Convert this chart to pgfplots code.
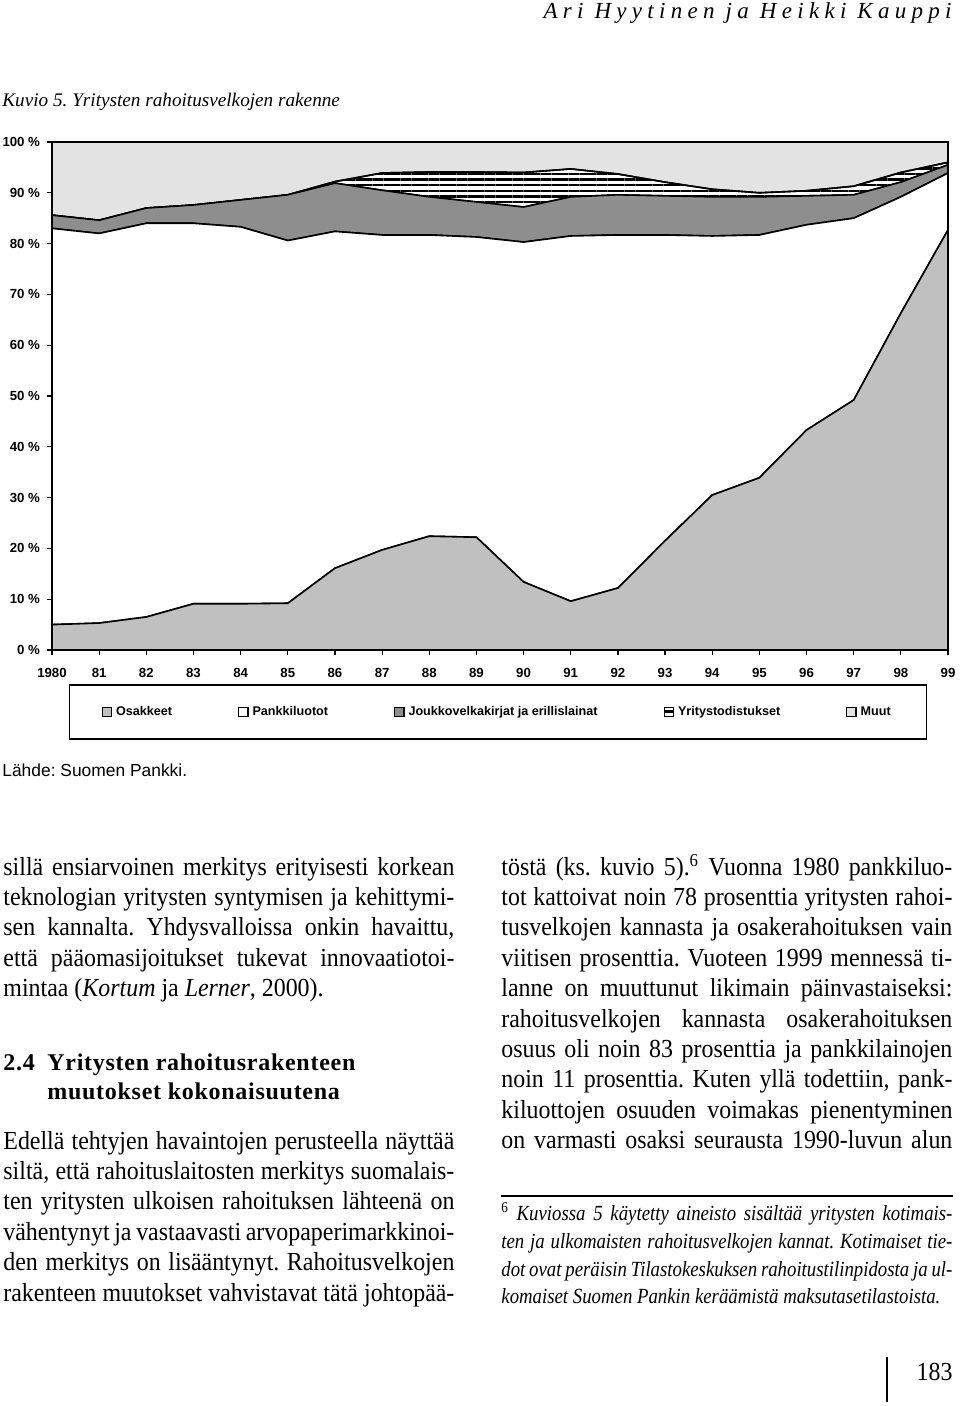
\documentclass[border=0pt]{standalone}
\usepackage{fontspec}
\usepackage{pgfplots}
\pgfplotsset{compat=1.18}
\usetikzlibrary{patterns.meta}
\setmainfont{Liberation Serif}
\newfontfamily\bodyfont{Liberation Serif}[FakeStretch=0.92]
\newfontfamily\notefont{Liberation Serif}[FakeStretch=0.87]
\newfontfamily\headfont{Liberation Serif}[LetterSpace=23]
\newfontfamily\secfont{Liberation Serif}[LetterSpace=3]
\newfontfamily\sansfont{Liberation Sans}
\definecolor{osak}{HTML}{C0C0C0}
\definecolor{jouk}{HTML}{8E8E8E}
\definecolor{muut}{HTML}{E3E3E3}
\newcommand{\J}[3]{\node[anchor=base west,inner sep=0pt] at (#1,#2) {\makebox[225.5pt][s]{#3}};}
\newcommand{\Lf}[3]{\node[anchor=base west,inner sep=0pt] at (#1,#2) {#3};}

\begin{document}
\frenchspacing
\begin{tikzpicture}
\path[use as bounding box] (0pt,0pt) rectangle (480pt,-703pt);
\begin{axis}[
  at={(26pt,-325pt)}, anchor=south west,
  scale only axis, width=448pt, height=254pt,
  xmin=1980, xmax=1999, ymin=0, ymax=100,
  stack plots=y,
  axis on top,
  axis line style={line width=0.7pt},
  xtick={1980,1981,...,1999},
  xticklabels={1980,81,82,83,84,85,86,87,88,89,90,91,92,93,94,95,96,97,98,99},
  ytick={0,10,...,100},
  yticklabels={0 \%,10 \%,20 \%,30 \%,40 \%,50 \%,60 \%,70 \%,80 \%,90 \%,100 \%},
  tick align=outside, tick pos=left,
  major tick length=2.5pt,
  tick style={black, line width=0.6pt},
  ticklabel style={font=\sansfont\bfseries\fontsize{6.6}{7}\selectfont},
  xticklabel style={yshift=-3pt},
  legend columns=5,
  legend style={at={(0.498,-0.122)}, anchor=center, draw=black, line width=0.7pt,
    font=\sansfont\bfseries\fontsize{6.3}{7}\selectfont,
    inner xsep=16pt, inner ysep=8.5pt,
    nodes={text height=4.6pt, text depth=1.4pt},
    /tikz/every even column/.append style={column sep=31pt}},
  legend image code/.code={\draw[#1, line width=0.6pt] (0pt,-2.3pt) rectangle (4.6pt,2.3pt);},
]
\addplot[fill=osak, draw=black, line width=0.8pt] coordinates {
(1980,5.0) (1981,5.3) (1982,6.5) (1983,9.1) (1984,9.1) (1985,9.2) (1986,16.1) (1987,19.7) (1988,22.4) (1989,22.2)
(1990,13.4) (1991,9.6) (1992,12.2) (1993,21.5) (1994,30.5) (1995,33.9) (1996,43.3) (1997,49.2) (1998,66.3) (1999,82.7)} \closedcycle;
\addlegendentry{Osakkeet}
\addplot[fill=white, draw=black, line width=0.8pt] coordinates {
(1980,78.0) (1981,76.7) (1982,77.5) (1983,74.9) (1984,74.2) (1985,71.4) (1986,66.3) (1987,62.0) (1988,59.3) (1989,59.1)
(1990,66.9) (1991,71.9) (1992,69.5) (1993,60.2) (1994,51.0) (1995,47.8) (1996,40.4) (1997,35.8) (1998,22.9) (1999,11.2)} \closedcycle;
\addlegendentry{Pankkiluotot}
\addplot[fill=jouk, draw=black, line width=0.8pt] coordinates {
(1980,2.6) (1981,2.6) (1982,3.0) (1983,3.6) (1984,5.3) (1985,9.0) (1986,9.5) (1987,8.8) (1988,7.5) (1989,6.9)
(1990,6.9) (1991,7.7) (1992,7.9) (1993,7.7) (1994,7.7) (1995,7.5) (1996,5.7) (1997,4.6) (1998,2.9) (1999,1.6)} \closedcycle;
\addlegendentry{Joukkovelkakirjat ja erillislainat}
\addplot[pattern={Lines[angle=0,distance=2.8pt,line width=1.2pt]}, draw=black, line width=0.8pt] coordinates {
(1980,0) (1981,0) (1982,0) (1983,0) (1984,0) (1985,0) (1986,0.3) (1987,3.4) (1988,4.9) (1989,5.9)
(1990,6.8) (1991,5.5) (1992,4.1) (1993,2.7) (1994,1.5) (1995,0.8) (1996,1.0) (1997,1.7) (1998,1.9) (1999,0.5)} \closedcycle;
\addlegendentry{Yritystodistukset}
\addplot[fill=muut, draw=black, line width=0.8pt] coordinates {
(1980,14.4) (1981,15.4) (1982,13.0) (1983,12.4) (1984,11.4) (1985,10.4) (1986,7.8) (1987,6.1) (1988,5.9) (1989,5.9)
(1990,6.0) (1991,5.3) (1992,6.3) (1993,7.9) (1994,9.3) (1995,10.0) (1996,9.6) (1997,8.7) (1998,6.0) (1999,4.0)} \closedcycle;
\addlegendentry{Muut}
\end{axis}

\begin{scope}[x=0.5pt,y=-0.5pt]
% header
\node[anchor=base east,inner sep=0pt,font=\headfont\itshape\fontsize{11.5}{13}\selectfont] at (952,19) {Ari Hyytinen ja Heikki Kauppi};
\node[anchor=base west,inner sep=0pt,font=\fontsize{9.6}{11}\selectfont\itshape] at (2,107) {Kuvio 5. Yritysten rahoitusvelkojen rakenne};
\node[anchor=base west,inner sep=0pt,font=\sansfont\fontsize{8.7}{10}\selectfont] at (2,776) {Lähde: Suomen Pankki.};

\begin{scope}[every node/.style={font=\bodyfont\fontsize{13}{15}\selectfont}]
\J{3}{875}{sillä ensiarvoinen merkitys erityisesti korkean}
\J{3}{905.4}{teknologian yritysten syntymisen ja kehittymi-}
\J{3}{935.8}{sen kannalta. Yhdysvalloissa onkin havaittu,}
\J{3}{966.2}{että pääomasijoitukset tukevat innovaatiotoi-}
\Lf{3}{996.6}{mintaa (\textit{Kortum} ja \textit{Lerner}, 2000).}

\J{3}{1149}{Edellä tehtyjen havaintojen perusteella näyttää}
\J{3}{1179.4}{siltä, että rahoituslaitosten merkitys suomalais-}
\J{3}{1209.8}{ten yritysten ulkoisen rahoituksen lähteenä on}
\J{3}{1240.2}{vähentynyt ja vastaavasti arvopaperimarkkinoi-}
\J{3}{1270.6}{den merkitys on lisääntynyt. Rahoitusvelkojen}
\J{3}{1301}{rakenteen muutokset vahvistavat tätä johtopää-}

\J{501}{875}{töstä (ks. kuvio 5).\textsuperscript{6} Vuonna 1980 pankkiluo-}
\J{501}{905.4}{tot kattoivat noin 78 prosenttia yritysten rahoi-}
\J{501}{935.8}{tusvelkojen kannasta ja osakerahoituksen vain}
\J{501}{966.2}{viitisen prosenttia. Vuoteen 1999 mennessä ti-}
\J{501}{996.6}{lanne on muuttunut likimain päinvastaiseksi:}
\J{501}{1027}{rahoitusvelkojen kannasta osakerahoituksen}
\J{501}{1057.4}{osuus oli noin 83 prosenttia ja pankkilainojen}
\J{501}{1087.8}{noin 11 prosenttia. Kuten yllä todettiin, pank-}
\J{501}{1118.2}{kiluottojen osuuden voimakas pienentyminen}
\J{501}{1148.6}{on varmasti osaksi seurausta 1990-luvun alun}
\end{scope}

\begin{scope}[every node/.style={font=\secfont\bfseries\fontsize{12}{14}\selectfont}]
\Lf{3}{1070}{2.4}
\Lf{47}{1070}{Yritysten rahoitusrakenteen}
\Lf{47}{1099}{muutokset kokonaisuutena}
\end{scope}

\draw[line width=0.6pt] (501,1196) -- (953,1196);
\begin{scope}[every node/.style={font=\notefont\itshape\fontsize{10.8}{13}\selectfont}]
\J{501}{1220}{\textsuperscript{\upshape 6} Kuviossa 5 käytetty aineisto sisältää yritysten kotimais-}
\J{501}{1248}{ten ja ulkomaisten rahoitusvelkojen kannat. Kotimaiset tie-}
\J{501}{1276}{dot ovat peräisin Tilastokeskuksen rahoitustilinpidosta ja ul-}
\Lf{501}{1303}{komaiset Suomen Pankin keräämistä maksutasetilastoista.}
\end{scope}

\draw[line width=0.6pt] (887,1357) -- (887,1402);
\node[anchor=base east,inner sep=0pt,font=\bodyfont\fontsize{13}{15}\selectfont] at (953,1380) {183};
\end{scope}
\end{tikzpicture}
\end{document}
